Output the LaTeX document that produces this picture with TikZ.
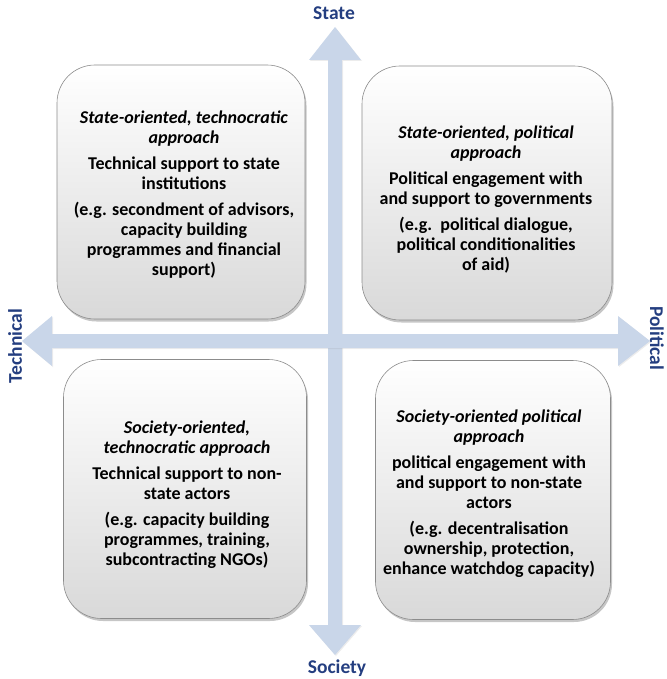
\documentclass[tikz,border=0pt]{standalone}
\usepackage{fontspec}
\setmainfont{Carlito}
\usetikzlibrary{shadows}
\definecolor{axisfill}{RGB}{201,214,233}
\definecolor{axislabel}{RGB}{36,62,128}
\begin{document}
\begin{tikzpicture}[x=1pt,y=-1pt,
  quad/.style={draw=black!45, line width=0.6pt, rounded corners=38pt,
    top color=white, bottom color=black!15,
    drop shadow={shadow xshift=1.5pt, shadow yshift=-2.5pt, opacity=0.45}},
  body/.style={font=\bfseries\fontsize{18}{20}\selectfont, align=center,
    anchor=north, inner sep=0pt},
  axislbl/.style={font=\bfseries\fontsize{19.5}{22}\selectfont,
    text=axislabel, inner sep=0pt},
  axisbar/.style={fill=axisfill,
    drop shadow={shadow xshift=1pt, shadow yshift=-1pt, opacity=0.15}},
]
\useasboundingbox (0,0) rectangle (666,679);

% axes: a double-headed block arrow in each direction
\coordinate (origin) at (335,341);
\path[axisbar] (328,60) -- (309,60) -- (335,27) -- (361,60) -- (342,60)
  -- (342,625) -- (361,625) -- (335,655) -- (309,625) -- (328,625) -- cycle;
\path[axisbar] (52,334) -- (52,316) -- (22,341) -- (52,366) -- (52,348)
  -- (618,348) -- (618,366) -- (650,341) -- (618,316) -- (618,334) -- cycle;

% axis labels
\node[axislbl] (state) at (334,13) {State};
\node[axislbl] (society) at (337,668) {Society};
\node[axislbl, rotate=90] (technical) at (15,346) {Technical};
\node[axislbl, rotate=-90] (political) at (657,338) {Political};

% quadrant boxes
\node[quad, minimum width=248pt, minimum height=254pt] (tl) at (181,192) {};
\node[quad, minimum width=250pt, minimum height=254pt] (tr) at (487,193) {};
\node[quad, minimum width=243pt, minimum height=259pt] (bl) at (185,489) {};
\node[quad, minimum width=235pt, minimum height=259pt] (br) at (493,490) {};

% quadrant texts
\node[body] (tltext) at (184,111) {\textit{State-oriented, technocratic}\\
  \textit{approach}\\[6pt]
  Technical support to state\\ institutions\\[6pt]
  (e.g. secondment of advisors,\\ capacity building\\
  programmes and financial\\ support)};
\node[body] (trtext) at (486,126) {\textit{State-oriented, political}\\
  \textit{approach}\\[6pt]
  Political engagement with\\ and support to governments\\[6pt]
  (e.g.\ \ political dialogue,\\ political conditionalities\\ of aid)};
\node[body] (bltext) at (187,421) {\textit{Society-oriented,}\\
  \textit{technocratic approach}\\[6pt]
  Technical support to non-\\ state actors\\[6pt]
  (e.g. capacity building\\ programmes, training,\\ subcontracting NGOs)};
\node[body] (brtext) at (489,410) {\textit{Society-oriented political}\\
  \textit{approach}\\[6pt]
  political engagement with\\ and support to non-state\\ actors\\[6pt]
  (e.g. decentralisation\\ ownership, protection,\\ enhance watchdog capacity)};
\end{tikzpicture}
\end{document}
